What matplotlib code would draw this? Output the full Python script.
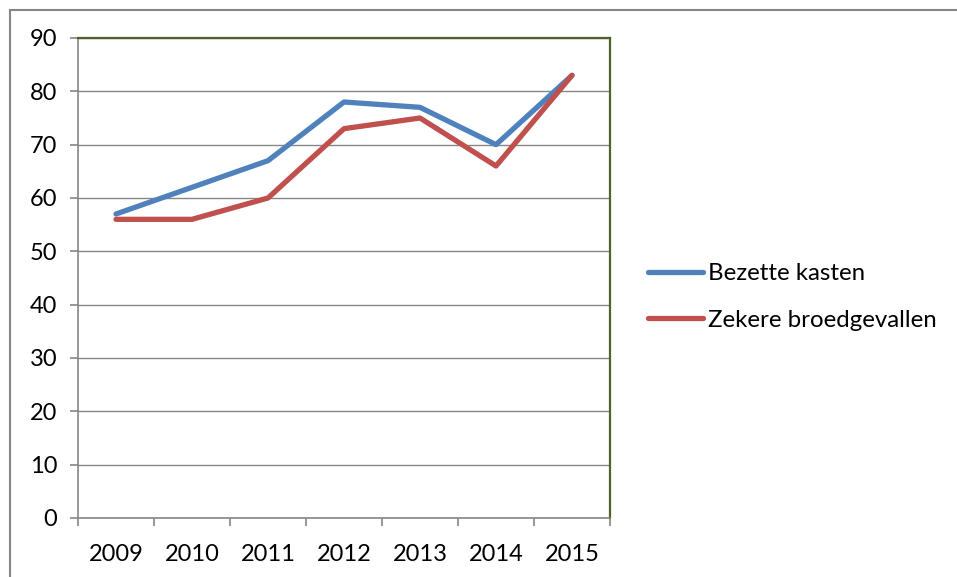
import matplotlib.pyplot as plt
from matplotlib.patches import Rectangle

years = ['2009', '2010', '2011', '2012', '2013', '2014', '2015']
bezette_kasten = [57, 62, 67, 78, 77, 70, 83]
zekere_broedgevallen = [56, 56, 60, 73, 75, 66, 83]

plt.rcParams['font.family'] = ['Lato', 'DejaVu Sans']

W, H = 957, 577
fig = plt.figure(figsize=(W / 100, H / 100), dpi=100)

# outer chart border (only top and left visible)
fig.patches.append(Rectangle((9.5 / W, -0.1), 1.2, (H - 9.5) / H + 0.1,
                             transform=fig.transFigure, fill=False,
                             edgecolor='#868686', linewidth=1.5))

left, right, top, bottom = 78, 610, 38, 518
ax = fig.add_axes([left / W, 1 - bottom / H, (right - left) / W, (bottom - top) / H])

x = list(range(len(years)))
ax.plot(x, bezette_kasten, color='#4F81BD', linewidth=3.8, solid_capstyle='round',
        label='Bezette kasten', zorder=3)
ax.plot(x, zekere_broedgevallen, color='#C0504D', linewidth=3.8, solid_capstyle='round',
        label='Zekere broedgevallen', zorder=4)

ax.set_xlim(-0.5, len(years) - 0.5)
ax.set_ylim(0, 90)
ax.set_yticks(range(0, 91, 10))
ax.set_xticks(x)
ax.set_xticklabels(years)
ax.set_xticks([i - 0.5 for i in range(len(years) + 1)], minor=True)

ax.grid(axis='y', color='#868686', linewidth=1.0)
ax.set_axisbelow(True)

for s in ['left', 'bottom']:
    ax.spines[s].set_color('#868686')
    ax.spines[s].set_linewidth(1.2)
for s in ['top', 'right']:
    ax.spines[s].set_color('#4F6228')
    ax.spines[s].set_linewidth(1.6)

ax.tick_params(axis='y', length=6, width=1.2, color='#868686', pad=9, labelsize=17)
ax.tick_params(axis='x', which='major', length=0, pad=19, labelsize=17)
ax.tick_params(axis='x', which='minor', length=6, width=1.2, color='#868686')

fig.legend(loc='center left', bbox_to_anchor=(648 / W, 1 - 297 / H), frameon=False,
           fontsize=17.3, handlelength=2.3, handletextpad=0.2, labelspacing=1.05,
           borderpad=0, borderaxespad=0)

fig.savefig('out.png', dpi=100)
